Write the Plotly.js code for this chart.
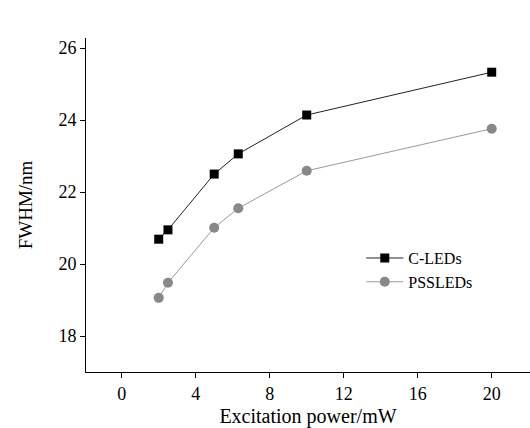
<!DOCTYPE html>
<html>
<head>
<meta charset="utf-8">
<script src="https://cdn.plot.ly/plotly-3.0.1.min.js"></script>
<style>html,body{margin:0;padding:0;background:#fff;}#chart{width:530px;height:428px;}</style>
</head>
<body>
<div id="chart"></div>
<script>
const power = [2, 2.5, 5, 6.3, 10, 20];
const cLeds = [20.69, 20.95, 22.5, 23.06, 24.14, 25.33];
const pssLeds = [19.06, 19.48, 21.01, 21.55, 22.59, 23.76];
const xTicks = [0, 4, 8, 12, 16, 20];
const yTicks = [18, 20, 22, 24, 26];

const font = {family: '"Liberation Serif", "Times New Roman", serif', color: '#000'};

const data = [
  {x: power, y: cLeds, name: 'C-LEDs', mode: 'lines+markers', type: 'scatter',
   line: {color: '#222', width: 1}, marker: {symbol: 'square', size: 9, color: '#000'}},
  {x: power, y: pssLeds, name: 'PSSLEDs', mode: 'lines+markers', type: 'scatter',
   line: {color: '#999', width: 1}, marker: {symbol: 'circle', size: 10, color: '#888'}}
];

const layout = {
  width: 530, height: 428,
  margin: {l: 86, r: 0, t: 38, b: 56},
  paper_bgcolor: '#fff', plot_bgcolor: '#fff',
  font: Object.assign({size: 18}, font),
  showlegend: true,
  legend: {x: 0.62, y: 0.392, xanchor: 'left', yanchor: 'top', bgcolor: 'rgba(0,0,0,0)',
           font: Object.assign({size: 16}, font), tracegroupgap: 0, itemwidth: 37},
  xaxis: {range: [-1.93, 22.07], tickvals: xTicks, ticktext: xTicks.map(String),
          showgrid: false, zeroline: false, showline: true, linecolor: '#000', linewidth: 1,
          ticks: 'outside', ticklen: 5, tickcolor: '#000',
          tickfont: Object.assign({size: 18}, font),
          title: {text: 'Excitation power/mW', font: Object.assign({size: 20}, font), standoff: 8}},
  yaxis: {range: [17, 26.28], tickvals: yTicks, ticktext: yTicks.map(String),
          showgrid: false, zeroline: false, showline: true, linecolor: '#000', linewidth: 1,
          ticks: 'outside', ticklen: 5, tickcolor: '#000',
          tickfont: Object.assign({size: 18}, font),
          title: {text: 'FWHM/nm', font: Object.assign({size: 19}, font), standoff: 20}}
};

Plotly.newPlot('chart', data, layout, {staticPlot: true, displayModeBar: false});
</script>
</body>
</html>
